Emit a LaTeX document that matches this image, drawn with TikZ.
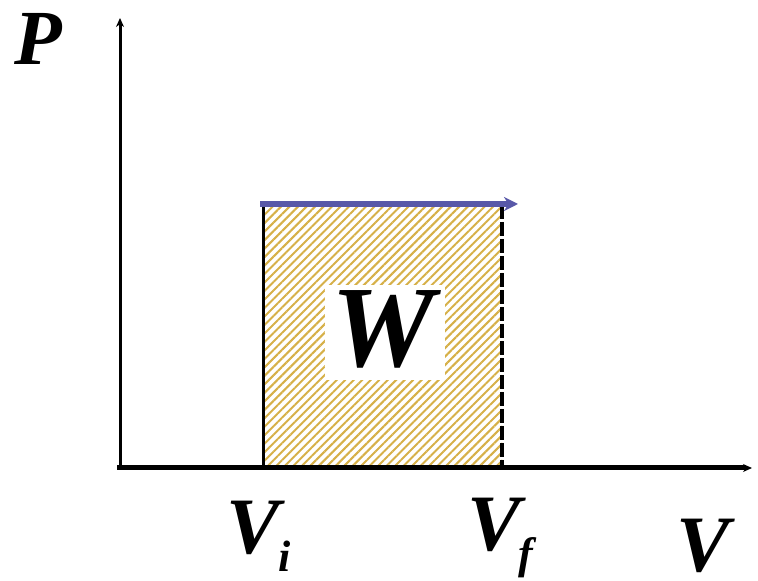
\documentclass[tikz,border=0pt]{standalone}
\usepackage{fontspec}
\setmainfont{Liberation Serif}
\usetikzlibrary{patterns.meta,arrows.meta}
\definecolor{hatch}{RGB}{214,176,72}
\definecolor{procblue}{RGB}{88,88,168}
\tikzset{
  axis/.style={draw=black,-{Stealth[length=9pt,width=8pt]}},
  lbl/.style={inner sep=0pt,anchor=base west,font=\fontsize{80}{80}\selectfont\bfseries\itshape},
  sub/.style={inner sep=0pt,anchor=base west,font=\fontsize{44}{44}\selectfont\bfseries\itshape},
}
\begin{document}
\begin{tikzpicture}[x=1pt,y=1pt]
\useasboundingbox (0,0) rectangle (758,581);
% work area
\fill[pattern={Lines[angle=45,distance=6pt,line width=2pt]},pattern color=hatch] (263,115) rectangle (502,376);
\node[fill=white,minimum width=120pt,minimum height=95pt,inner sep=0pt] (wbox) at (385,248.5) {};
\node[inner sep=0pt,font=\fontsize{116}{116}\selectfont\bfseries\itshape] (W) at (383,252) {W};
\coordinate (bl) at (263,114);
\coordinate (tl) at (263,376);
\coordinate (tr) at (502,376);
\coordinate (br) at (502,114);
\draw[line width=3pt] (bl) -- (tl) -- (tr);
\draw[line width=3.5pt,dash pattern=on 14pt off 3pt] (tr) -- (br);
% axes
\coordinate (O) at (120,113);
\coordinate (ytop) at (120,563);
\coordinate (xend) at (752,113);
\draw[axis,line width=3pt] (120,111) -- (ytop);
\draw[axis,line width=5pt] (117,113) -- (xend);
% process arrow
\coordinate (pa) at (260,377);
\coordinate (pb) at (518,377);
\draw[procblue,line width=6pt,-{Stealth[length=14pt,width=14pt]}] (pa) -- (pb);
% labels
\node[lbl,font=\fontsize{78}{78}\selectfont\bfseries\itshape] (P) at (14,516) {P};
\node[lbl] (Vi) at (226,27) {V};
\node[sub] (i) at (278,9) {i};
\node[lbl] (Vf) at (467,30) {V};
\node[sub] (f) at (518,12) {f};
\node[lbl] (V) at (676,9) {V};
\end{tikzpicture}
\end{document}
